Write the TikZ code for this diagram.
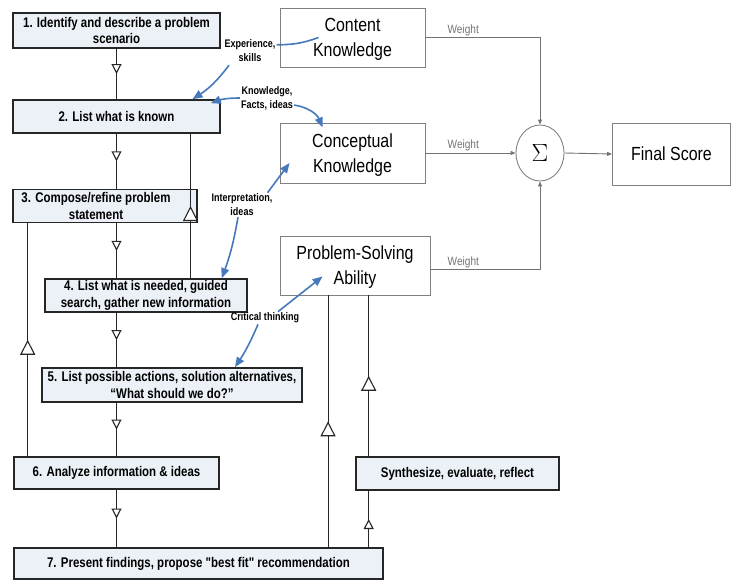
\documentclass[tikz,border=0pt]{standalone}
\usepackage{fontspec}
\usepackage{tikz}
\usetikzlibrary{arrows.meta,decorations.markings,shapes.geometric}
\newfontfamily\stepfont[FakeStretch=0.82]{Liberation Sans}
\newfontfamily\knowfont[FakeStretch=0.84]{Liberation Sans}
\definecolor{stepfill}{RGB}{236,241,248}
\definecolor{ideablue}{RGB}{70,120,188}

\begin{document}
\begin{tikzpicture}[x=1pt,y=-1pt,
    stepbox/.style={draw=black!85,line width=1.6pt,fill=stepfill,align=center,inner sep=0pt,font=\stepfont\bfseries\fontsize{14}{16.5}\selectfont},
    knowbox/.style={draw=black!50,line width=0.9pt,fill=white,align=center,inner sep=0pt,text depth=0pt,font=\knowfont\fontsize{19}{25}\selectfont},
    idea/.style={font=\stepfont\bfseries\fontsize{11}{14}\selectfont,align=center,inner sep=1pt},
    weightlbl/.style={font=\knowfont\fontsize{12}{14}\selectfont,text=black!55,inner sep=1.5pt},
    flowsmall/.style={draw=black!85,line width=1.1pt,postaction={decorate},decoration={markings,mark=at position 0.5 with {\arrow{Triangle[width=10pt,length=10pt,fill=white]}}}},
    flowbig/.style={draw=black!85,line width=1.1pt,postaction={decorate},decoration={markings,mark=at position 0.5 with {\arrow{Triangle[width=15pt,length=15pt,fill=white]}}}},
    weighted/.style={draw=black!55,line width=0.9pt,-{Triangle[length=5pt,width=4pt]}},
    ideaarrow/.style={draw=ideablue,line width=1.6pt,-{Triangle[length=10pt,width=8pt]}}]
    \useasboundingbox (0,0) rectangle (732,581);

    \node[stepbox,minimum width=207,minimum height=35] (s1) at (116.5,30.5) {1. Identify and describe a problem\\scenario};
    \node[stepbox,minimum width=207,minimum height=33] (s2) at (116.5,116.5) {2. List what is known};
    \node[stepbox,minimum width=184,minimum height=33] (s3) at (105,206) {3. Compose/refine problem\hspace*{18pt}\\statement\hspace*{18pt}};
    \node[stepbox,minimum width=202,minimum height=33] (s4) at (146,295.5) {4. List what is needed, guided\\search, gather new information};
    \node[stepbox,minimum width=260,minimum height=34] (s5) at (172,385) {5. List possible actions, solution alternatives,\\“What should we do?”};
    \node[stepbox,minimum width=205,minimum height=32] (s6) at (116.5,473) {6. Analyze information \& ideas};
    \node[stepbox,minimum width=369,minimum height=31] (s7) at (198.5,563.5) {7. Present findings, propose "best fit" recommendation};
    \node[stepbox,minimum width=203,minimum height=33] (syn) at (457.5,473.5) {Synthesize, evaluate, reflect};

    \node[knowbox,minimum width=145,minimum height=59] (ck) at (352.5,37.5) {Content\\Knowledge};
    \node[knowbox,minimum width=145,minimum height=60] (cp) at (352.5,153) {Conceptual\\Knowledge};
    \node[knowbox,minimum width=150,minimum height=59] (ps) at (355,265.5) {Problem-Solving\\Ability};
    \node[draw=black!50,line width=0.9pt,ellipse,minimum width=48,minimum height=56,inner sep=0pt,font=\fontsize{26}{26}\selectfont] (sig) at (540,153) {$\Sigma$};
    \node[knowbox,minimum width=118,minimum height=62] (fs) at (671.5,154) {Final Score};

    \node[idea] (lexp) at (250,51) {Experience,\\skills};
    \node[idea] (lknow) at (267,98) {Knowledge,\\Facts, ideas};
    \node[idea] (linterp) at (242,205) {Interpretation,\\ideas};
    \node[idea] (lcrit) at (265,318) {Critical thinking};

    \draw[flowsmall] (s1.south) -- (s2.north);
    \draw[flowsmall] (s2.south) -- (s2.south |- s3.north);
    \draw[flowsmall] (s2.south |- s3.south) -- (s2.south |- s4.north);
    \draw[flowsmall] (s2.south |- s4.south) -- (s2.south |- s5.north);
    \draw[flowsmall] (s2.south |- s5.south) -- (s6.north);
    \draw[flowsmall] (s6.south) -- (s2.south |- s7.north);
    \draw[flowbig] ([xshift=44.5]s4.north) -- ([xshift=44.5]s4.north |- s2.south);
    \draw[flowbig] ([xshift=14.5]s6.north west) -- ([xshift=14.5]s6.north west |- s3.south);
    \draw[flowbig] ([xshift=48.5]ps.south west |- s7.north) -- ([xshift=48.5]ps.south west);
    \draw[flowsmall] ([xshift=13.5]syn.south west |- s7.north) -- ([xshift=13.5]syn.south west);
    \draw[flowbig] ([xshift=13.5]syn.north west) -- ([xshift=13.5]syn.north west |- ps.south);

    \draw[weighted] (ck.east) -| node[pos=0.165,above,weightlbl] {Weight} (sig.north);
    \draw[weighted] (cp.east) -- node[pos=0.42,above,weightlbl] {Weight} (sig.west);
    \draw[weighted] ([yshift=-4]ps.east) -| node[pos=0.15,above,weightlbl] {Weight} (sig.south);
    \draw[weighted] (sig.east) -- (fs.west);

    \draw[draw=ideablue,line width=1.6pt] ([yshift=-6]lexp.north east) to[bend right=10] ([xshift=39]ck.west);
    \draw[ideaarrow] ([xshift=-21,yshift=-2]lexp.south) to[bend left=10] ([xshift=76]s2.north);
    \draw[ideaarrow] (lknow.west) to[bend right=10] ([xshift=-10,yshift=-4]s2.north east);
    \draw[ideaarrow] ([yshift=6]lknow.south east) to[bend left=30] ([xshift=-30,yshift=-5]cp.north);
    \draw[ideaarrow] ([xshift=-6]linterp.north east) -- ([xshift=10,yshift=-10]cp.west);
    \draw[ideaarrow] ([xshift=-4]linterp.south) to[bend left=5] ([xshift=-26]s4.north east);
    \draw[ideaarrow] ([xshift=13]lcrit.north) -- ([xshift=43,yshift=-11]ps.west);
    \draw[ideaarrow] ([xshift=-7]lcrit.south) to[bend left=5] ([xshift=63]s5.north);
\end{tikzpicture}
\end{document}
